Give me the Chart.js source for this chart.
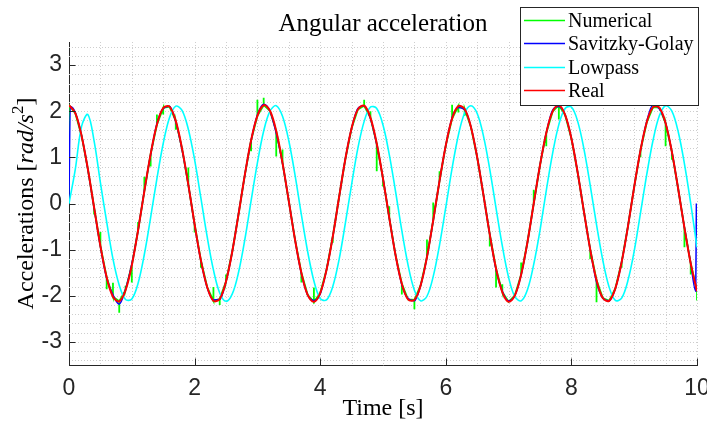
<!DOCTYPE html>
<html>
<head>
<meta charset="utf-8">
<script src="https://cdn.jsdelivr.net/npm/chart.js@4.4.0/dist/chart.umd.min.js"></script>
<style>
  html, body { margin: 0; padding: 0; background: #fff; }
  canvas { display: block; }
</style>
</head>
<body>
<canvas id="chart" width="707" height="427"></canvas>
<script>
// --- Data ---
const seriesLabels = ['Numerical', 'Savitzky-Golay', 'Lowpass', 'Real'];
const xTickLabels = [0, 2, 4, 6, 8, 10];
const yTickLabels = [-3, -2, -1, 0, 1, 2, 3];

const timeSamples = [
  0, 0.1, 0.2, 0.3, 0.4, 0.5, 0.6, 0.7, 0.8, 0.9,
  1, 1.1, 1.2, 1.3, 1.4, 1.5, 1.6, 1.7, 1.8, 1.9,
  2, 2.1, 2.2, 2.3, 2.4, 2.5, 2.6, 2.7, 2.8, 2.9,
  3, 3.1, 3.2, 3.3, 3.4, 3.5, 3.6, 3.7, 3.8, 3.9,
  4, 4.1, 4.2, 4.3, 4.4, 4.5, 4.6, 4.7, 4.8, 4.9,
  5, 5.1, 5.2, 5.3, 5.4, 5.5, 5.6, 5.7, 5.8, 5.9,
  6, 6.1, 6.2, 6.3, 6.4, 6.5, 6.6, 6.7, 6.8, 6.9,
  7, 7.1, 7.2, 7.3, 7.4, 7.5, 7.6, 7.7, 7.8, 7.9,
  8, 8.1, 8.2, 8.3, 8.4, 8.5, 8.6, 8.7, 8.8, 8.9,
  9, 9.1, 9.2, 9.3, 9.4, 9.5, 9.6, 9.7, 9.8, 9.9,
  10
];

const realValues = [
  2.13, 1.96, 1.47, 0.75, -0.09, -0.92, -1.60, -2.02, -2.12, -1.88,
  -1.34, -0.58, 0.27, 1.07, 1.71, 2.07, 2.10, 1.79, 1.19, 0.41,
  -0.45, -1.23, -1.81, -2.11, -2.07, -1.69, -1.04, -0.23, 0.62, 1.37,
  1.90, 2.13, 2.01, 1.57, 0.88, 0.05, -0.79, -1.50, -1.98, -2.13,
  -1.94, -1.44, -0.72, 0.13, 0.96, 1.63, 2.04, 2.12, 1.86, 1.30,
  0.54, -0.31, -1.12, -1.74, -2.08, -2.09, -1.77, -1.16, -0.36, 0.49,
  1.26, 1.84, 2.11, 2.05, 1.66, 1.00, 0.18, -0.67, -1.41, -1.92,
  -2.13, -1.99, -1.54, -0.84, 0.00, 0.83, 1.53, 1.99, 2.13, 1.92,
  1.41, 0.67, -0.18, -1.00, -1.66, -2.05, -2.11, -1.84, -1.27, -0.50,
  0.36, 1.15, 1.76, 2.09, 2.08, 1.74, 1.12, 0.32, -0.53, -1.30,
  -1.90
];

const lowpassValues = [
  0.00, 0.74, 1.67, 1.93, 1.35, 0.45, -0.40, -1.20, -1.77, -2.08,
  -2.07, -1.73, -1.10, -0.30, 0.54, 1.30, 1.86, 2.11, 2.02, 1.61,
  0.95, 0.12, -0.72, -1.44, -1.94, -2.12, -1.96, -1.49, -0.78, 0.06,
  0.88, 1.57, 2.00, 2.12, 1.89, 1.36, 0.61, -0.24, -1.04, -1.68,
  -2.06, -2.09, -1.80, -1.22, -0.43, 0.41, 1.20, 1.78, 2.09, 2.06,
  1.70, 1.06, 0.26, -0.59, -1.34, -1.88, -2.11, -2.01, -1.58, -0.90,
  -0.08, 0.76, 1.48, 1.96, 2.12, 1.95, 1.46, 0.74, -0.10, -0.92,
  -1.60, -2.02, -2.11, -1.87, -1.32, -0.58, 0.28, 1.08, 1.71, 2.06,
  2.09, 1.78, 1.18, 0.39, -0.46, -1.23, -1.81, -2.10, -2.05, -1.67,
  -1.03, -0.21, 0.63, 1.37, 1.90, 2.12, 2.00, 1.56, 0.86, 0.00,
  -0.95
];

const savgolTimes = [
  0, 0.02, 0.1, 0.2, 0.3, 0.4, 0.5, 0.6, 0.7, 0.8, 0.9,
  1, 1.1, 1.2, 1.3, 1.4, 1.5, 1.6, 1.7, 1.8, 1.9,
  2, 2.1, 2.2, 2.3, 2.4, 2.5, 2.6, 2.7, 2.8, 2.9,
  3, 3.1, 3.2, 3.3, 3.4, 3.5, 3.6, 3.7, 3.8, 3.9,
  4, 4.1, 4.2, 4.3, 4.4, 4.5, 4.6, 4.7, 4.8, 4.9,
  5, 5.1, 5.2, 5.3, 5.4, 5.5, 5.6, 5.7, 5.8, 5.9,
  6, 6.1, 6.2, 6.3, 6.4, 6.5, 6.6, 6.7, 6.8, 6.9,
  7, 7.1, 7.2, 7.3, 7.4, 7.5, 7.6, 7.7, 7.8, 7.9,
  8, 8.1, 8.2, 8.3, 8.4, 8.5, 8.6, 8.7, 8.8, 8.9,
  9, 9.1, 9.2, 9.3, 9.4, 9.5, 9.6, 9.7, 9.8, 9.9,
  9.98, 9.99
];

const savgolValues = [
  0.00, 2.10, 1.97, 1.47, 0.74, -0.10, -0.93, -1.62, -1.98, -2.18, -1.86,
  -1.31, -0.58, 0.28, 1.06, 1.73, 2.06, 2.11, 1.77, 1.17, 0.41,
  -0.46, -1.24, -1.82, -2.09, -2.08, -1.69, -1.04, -0.22, 0.62, 1.37,
  1.92, 2.15, 2.00, 1.52, 0.87, 0.05, -0.79, -1.52, -1.98, -2.10,
  -1.96, -1.44, -0.72, 0.13, 0.96, 1.63, 2.06, 2.12, 1.84, 1.28,
  0.54, -0.31, -1.12, -1.76, -2.06, -2.11, -1.77, -1.16, -0.36, 0.49,
  1.26, 1.86, 2.08, 2.03, 1.66, 1.00, 0.18, -0.67, -1.43, -1.90,
  -2.11, -1.99, -1.54, -0.84, 0.00, 0.83, 1.53, 2.02, 2.10, 1.92,
  1.41, 0.67, -0.18, -1.00, -1.70, -2.05, -2.11, -1.84, -1.27, -0.50,
  0.36, 1.15, 1.78, 2.14, 2.05, 1.74, 1.12, 0.32, -0.53, -1.30,
  -1.90, 0.00
];

// Numerical derivative: the red samples plus the short green jumps
const numericalSpikeTimes = [
  0, 0.4, 0.5, 0.6, 0.7, 0.8, 0.9, 1, 1.1, 1.2, 1.3, 1.4, 1.5, 1.7, 1.9,
  2, 2.1, 2.3, 2.4, 2.5, 2.9, 3, 3.1, 3.3, 3.4, 3.7, 3.9, 4.2,
  4.7, 4.8, 4.9, 5, 5.1, 5.3, 5.5, 5.7, 5.8, 5.9, 6.1, 6.2, 6.3,
  6.7, 6.8, 6.9, 7.2, 7.4, 7.6, 7.8, 8.3, 8.4, 8.8, 9.1, 9.5, 9.6,
  9.8, 9.9, 10
];
const numericalSpikeTips = [
  0.00, -0.24, -0.62, -1.86, -1.72, -2.37, -1.78, -1.71, -0.40, 0.58, 0.80, 1.93, 1.93, 1.60, 0.78,
  -0.63, -1.39, -1.81, -2.20, -1.54, 1.13, 2.25, 2.29, 1.02, 1.17, -1.71, -1.82, -0.85,
  2.25, 2.00, 0.70, 0.37, -0.06, -1.97, -2.29, -0.78, 0.02, 0.70, 2.14, 1.97, 1.90,
  -0.93, -1.82, -1.75, -1.28, 0.30, 1.24, 1.82, -1.21, -2.14, -1.39, 1.00, 1.24, 0.95,
  -0.95, -1.54, -2.10
];

// --- Build point lists for the library ---
const toPoints = (xs, ys) => xs.map((t, i) => ({ x: t, y: ys[i] }));

function numericalPoints() {
  const pts = [];
  timeSamples.forEach((t, i) => {
    pts.push({ x: t, y: realValues[i] });
    const s = numericalSpikeTimes.findIndex(v => Math.abs(v - t) < 1e-6);
    if (s >= 0) {
      pts.push({ x: t, y: numericalSpikeTips[s] });
      pts.push({ x: t, y: realValues[i] });
    }
  });
  return pts;
}

const xGrid = [];
for (let v = 0.5; v <= 10.001; v += 0.5) xGrid.push(Math.round(v * 10) / 10);
const yGrid = [];
for (let v = -3.4; v <= 3.401; v += 0.2) yGrid.push(Math.round(v * 10) / 10);

const axisColor = '#262626';
const gridColor = '#cecece';

// dotted grid, like the MATLAB minor grid
const dottedGrid = {
  id: 'dottedGrid',
  beforeDatasetsDraw(chart) {
    const { ctx, chartArea: a, scales: { x, y } } = chart;
    ctx.save();
    ctx.strokeStyle = gridColor;
    ctx.lineWidth = 1;
    ctx.setLineDash([1, 2]);
    ctx.beginPath();
    xGrid.forEach(v => {
      const px = Math.round(x.getPixelForValue(v)) + 0.5;
      ctx.moveTo(px, a.top);
      ctx.lineTo(px, a.bottom);
    });
    yGrid.forEach(v => {
      const py = Math.round(y.getPixelForValue(v)) + 0.5;
      ctx.moveTo(a.left, py);
      ctx.lineTo(a.right, py);
    });
    ctx.stroke();
    ctx.restore();
  }
};

// --- Texts, inward ticks and legend box drawn on top ---
const overlay = {
  id: 'overlay',
  afterDraw(chart) {
    const { ctx, chartArea: a, scales: { x, y } } = chart;
    ctx.save();

    ctx.strokeStyle = axisColor;
    ctx.lineWidth = 1;
    ctx.beginPath();
    xTickLabels.forEach(v => {
      const px = Math.round(x.getPixelForValue(v)) + 0.5;
      ctx.moveTo(px, a.bottom);
      ctx.lineTo(px, a.bottom - 6.5);
    });
    yTickLabels.forEach(v => {
      const py = Math.round(y.getPixelForValue(v)) + 0.5;
      ctx.moveTo(a.left, py);
      ctx.lineTo(a.left + 6.5, py);
    });
    ctx.stroke();

    // title
    ctx.fillStyle = '#000';
    ctx.textAlign = 'center';
    ctx.textBaseline = 'alphabetic';
    ctx.font = '25px "Liberation Serif"';
    ctx.fillText('Angular acceleration', (a.left + a.right) / 2, 31);

    // x label
    ctx.font = '24px "Liberation Serif"';
    ctx.fillText('Time [s]', (a.left + a.right) / 2, 415);

    // y label with math part
    const parts = [
      { t: 'Accelerations [', f: '24px "Liberation Serif"', dy: 0 },
      { t: 'rad/s', f: 'italic 24px "Liberation Serif"', dy: 0 },
      { t: '2', f: '17px "Liberation Serif"', dy: -10 },
      { t: ']', f: '24px "Liberation Serif"', dy: 0 }
    ];
    let total = 0;
    parts.forEach(p => { ctx.font = p.f; p.w = ctx.measureText(p.t).width; total += p.w; });
    ctx.translate(33, (a.top + a.bottom) / 2);
    ctx.rotate(-Math.PI / 2);
    ctx.textAlign = 'left';
    let cx = -total / 2;
    parts.forEach(p => { ctx.font = p.f; ctx.fillText(p.t, cx, p.dy); cx += p.w; });
    ctx.setTransform(1, 0, 0, 1, 0, 0);

    // legend
    const box = { l: 520.5, t: 7.5, r: 698.5, b: 105.5 };
    ctx.fillStyle = '#fff';
    ctx.fillRect(box.l, box.t, box.r - box.l, box.b - box.t);
    ctx.strokeStyle = axisColor;
    ctx.strokeRect(box.l, box.t, box.r - box.l, box.b - box.t);
    const rows = [20.5, 43.5, 67.5, 90.5];
    ctx.font = '20px "Liberation Serif"';
    ctx.textBaseline = 'alphabetic';
    chart.data.datasets.forEach((ds, i) => {
      ctx.strokeStyle = ds.borderColor;
      ctx.lineWidth = 1.5;
      ctx.beginPath();
      ctx.moveTo(524, rows[i]);
      ctx.lineTo(565, rows[i]);
      ctx.stroke();
      ctx.fillStyle = '#000';
      ctx.fillText(ds.label, 568, rows[i] + 6.5);
    });
    ctx.restore();
  }
};

new Chart(document.getElementById('chart'), {
  type: 'line',
  data: {
    datasets: [
      { label: seriesLabels[0], data: numericalPoints(), borderColor: '#00ff00', borderWidth: 1.8, tension: 0, order: 3 },
      { label: seriesLabels[1], data: toPoints(savgolTimes, savgolValues), borderColor: '#0000ff', borderWidth: 1.5, cubicInterpolationMode: 'monotone', order: 2 },
      { label: seriesLabels[2], data: toPoints(timeSamples, lowpassValues), borderColor: '#00ffff', borderWidth: 1.6, tension: 0.35, order: 1 },
      { label: seriesLabels[3], data: toPoints(timeSamples, realValues), borderColor: '#ff0000', borderWidth: 2, tension: 0.35, order: 0 }
    ]
  },
  options: {
    responsive: false,
    devicePixelRatio: 1,
    animation: false,
    layout: { padding: { left: 0, right: 10, top: 42, bottom: 0 } },
    elements: { point: { radius: 0 } },
    plugins: { legend: { display: false }, title: { display: false }, tooltip: { enabled: false } },
    scales: {
      x: {
        type: 'linear', min: 0, max: 10,
        afterBuildTicks: s => { s.ticks = xTickLabels.map(v => ({ value: v })); },
        afterFit: s => { s.height = 62; s.paddingLeft = 0; s.paddingRight = 0; },
        ticks: {
          autoSkip: false, maxRotation: 0, padding: 10, color: axisColor,
          font: { family: 'Liberation Sans', size: 23 }
        },
        grid: { display: false, drawTicks: false },
        border: { color: axisColor, width: 1 }
      },
      y: {
        type: 'linear', min: -3.5, max: 3.5,
        afterBuildTicks: s => { s.ticks = yTickLabels.map(v => ({ value: v })); },
        afterFit: s => { s.width = 69; s.paddingTop = 0; s.paddingBottom = 0; },
        ticks: {
          autoSkip: false, padding: 7, color: axisColor,
          font: { family: 'Liberation Sans', size: 23 }
        },
        grid: { display: false, drawTicks: false },
        border: { color: axisColor, width: 1 }
      }
    }
  },
  plugins: [dottedGrid, overlay]
});
</script>
</body>
</html>
